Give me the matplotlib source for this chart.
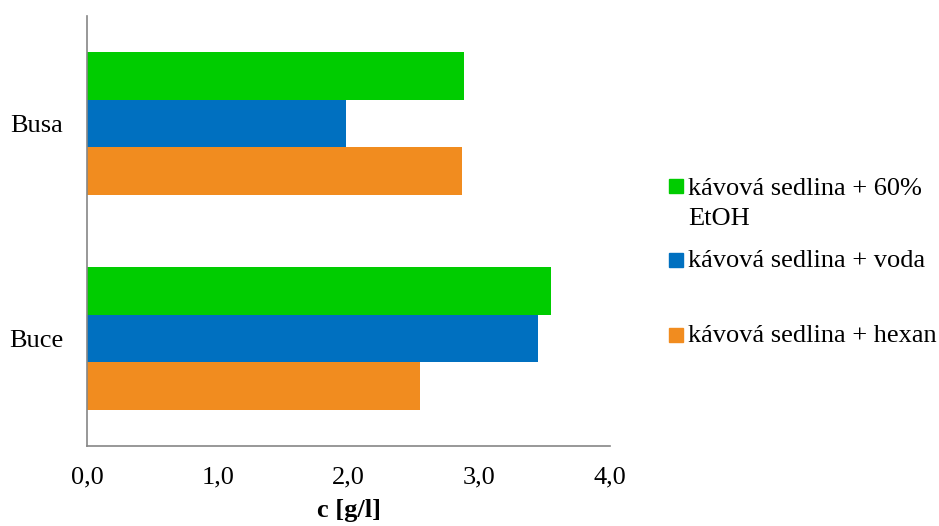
import matplotlib.pyplot as plt
from matplotlib.patches import Rectangle

plt.rcParams['font.family'] = ['Liberation Serif', 'DejaVu Serif']

categories = ['Buce', 'Busa']
series_names = ['kávová sedlina + hexan', 'kávová sedlina + voda', 'kávová sedlina + 60%\nEtOH']
hexan = [2.55, 2.87]
voda = [3.45, 1.98]
etoh = [3.55, 2.88]
colors = ['#F18C1F', '#0070C0', '#00CC00']
x_ticks = [0, 1, 2, 3, 4]
x_labels = ['0,0', '1,0', '2,0', '3,0', '4,0']

fig = plt.figure(figsize=(9.39, 5.26), dpi=100)
ax = fig.add_axes([0.0927, 0.152, 0.5569, 0.8176])

h = 0.222
for i, vals in enumerate([hexan, voda, etoh]):
    pos = [c + (i - 1) * h for c in range(len(categories))]
    ax.barh(pos, vals, height=h, color=colors[i])

ax.set_xlim(0, 4)
ax.set_ylim(-0.5, 1.5)
ax.set_xticks(x_ticks)
ax.set_xticklabels(x_labels, fontsize=19)
ax.set_yticks(range(len(categories)))
ax.set_yticklabels(categories, fontsize=19)
ax.tick_params(axis='x', length=0, pad=15)
ax.tick_params(axis='y', length=0, pad=17)
ax.set_xlabel('c [g/l]', fontsize=19, fontweight='bold', labelpad=7)

for s in ['top', 'right']:
    ax.spines[s].set_visible(False)
for s in ['left', 'bottom']:
    ax.spines[s].set_color('#868686')
    ax.spines[s].set_linewidth(1.2)

# legend drawn by hand to copy the uneven spacing
W, H = 939, 526
leg_y = [342, 267, 225]   # baselines (last line) in pixels from top
box_y = [342, 267, 193]
for name, col, y, by in zip(series_names, colors, leg_y, box_y):
    fig.patches.append(Rectangle((669 / W, 1 - by / H), 14 / W, 14 / H,
                                 transform=fig.transFigure, color=col))
    fig.text(688 / W, 1 - y / H, name, fontsize=19, va='baseline', ha='left',
             linespacing=1.45)

fig.savefig('out.png', dpi=100)
